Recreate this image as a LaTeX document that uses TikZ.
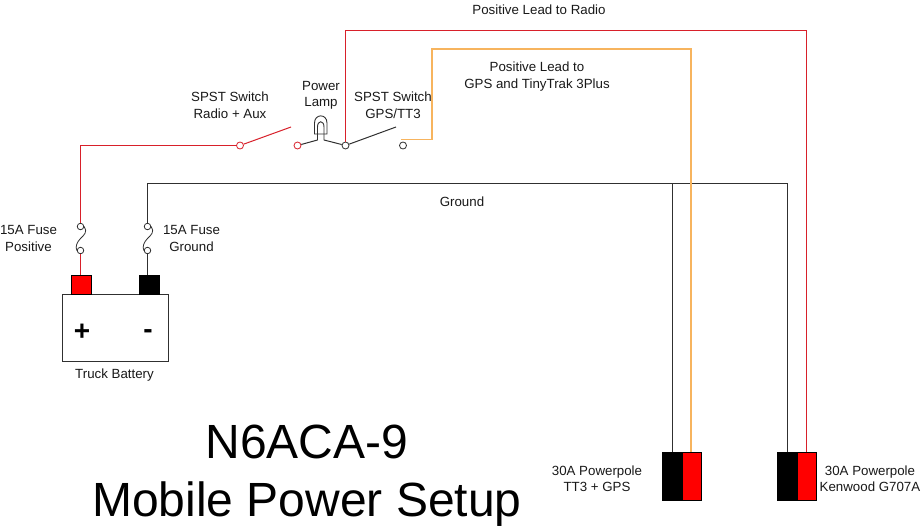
\documentclass[tikz,border=0pt]{standalone}
\usepackage{fontspec}
\setmainfont{Liberation Sans}
\definecolor{wirered}{HTML}{D8202A}
\definecolor{wireorange}{HTML}{F7B45E}
\definecolor{wireblack}{HTML}{303030}
\tikzset{
  lbl/.style={inner sep=0pt,align=center,font=\fontsize{13.3}{16.5}\selectfont,text=black!90},
  title/.style={inner sep=0pt,align=center,font=\fontsize{48}{58}\selectfont,text=black},
  term/.style={circle,draw,inner sep=0pt,minimum size=7pt,line width=.8pt},
  fuseend/.style={circle,draw=wireblack,inner sep=0pt,minimum size=6.5pt,line width=.8pt},
  terminal/.style={rectangle,draw=black,inner sep=0pt,line width=.6pt},
  wr/.style={draw=wirered,line width=1pt},
  wo/.style={draw=wireorange,line width=1.2pt},
  wk/.style={draw=wireblack,line width=1pt}
}
\begin{document}
\begin{tikzpicture}[x=1pt,y=-1pt]
\useasboundingbox (0,0) rectangle (921,530);
\fill[white] (0,0) rectangle (921,530);
% battery
\node[draw=wireblack,line width=1pt,inner sep=0pt,minimum width=105.5pt,minimum height=67pt] (batt) at (115.25,327.5) {};
\node[terminal,fill=red,minimum width=19.5pt,minimum height=19pt] (pos) at (81.5,284.5) {};
\node[terminal,fill=black,minimum width=20pt,minimum height=19pt] (neg) at (149,284.5) {};
\node[inner sep=0pt,font=\fontsize{28}{28}\selectfont\bfseries] (plus) at (82,332) {+};
\node[inner sep=0pt,font=\fontsize{28}{28}\selectfont\bfseries] (minus) at (148,334) {-};
% fuses
\node[fuseend] (fa1) at (80.5,226.5) {};
\node[fuseend] (fa2) at (80.5,250.5) {};
\node[fuseend] (fb1) at (147.5,226.5) {};
\node[fuseend] (fb2) at (147.5,250.5) {};
\draw[wk,line width=.8pt] (fa1.east) .. controls (88,232) and (84,235) .. (80.5,238.5) .. controls (77,242) and (75,247) .. (fa2.west);
\draw[wk,line width=.8pt] (fb1.east) .. controls (155,232) and (151,235) .. (147.5,238.5) .. controls (144,242) and (142,247) .. (fb2.west);
% switch terminals
\node[term,draw=wirered] (s1) at (240,145.5) {};
\node[term,draw=wirered] (s2) at (297.5,145.5) {};
\node[term,draw=wireblack] (s3) at (345.5,145.5) {};
\node[term,draw=wireblack] (s4) at (403,145.5) {};
\coordinate (lev1) at (291,127);
\coordinate (lev2) at (396,127);
% lamp
\coordinate (la) at (317.5,140);
\coordinate (lb) at (324,140);
\draw[wk,line width=.9pt] (314.5,134) -- (314.5,123) .. controls (314.5,113.5) and (327,113.5) .. (327,123) -- (327,134) -- cycle;
\draw[wk,line width=.9pt] (la) -- (317.5,127) .. controls (317.5,120) and (324,120) .. (324,127) -- (lb);
% connectors
\coordinate (rc1) at (80.5,145.5);
\draw[wr] (pos.north -| fa1) -- (fa2);
\draw[wr] (fa1) -- (rc1) -- (s1);
\draw[wr] (s1) -- (lev1);
\draw[wk] (neg.north -| fb1) -- (fb2);
\coordinate (gc1) at (147.5,183);
\coordinate (gc2) at (787,183);
\coordinate (gc3) at (672,183);
\draw[wk] (s2) -- (la);
\draw[wk] (lb) -- (s3);
\draw[wk] (s3) -- (lev2);
% powerpoles
\node[terminal,fill=black,minimum width=20pt,minimum height=48pt] (p1k) at (672,476) {};
\node[terminal,fill=red,minimum width=19pt,minimum height=48pt] (p1r) at (691.5,476) {};
\node[terminal,fill=black,minimum width=20pt,minimum height=48pt] (p2k) at (787,476) {};
\node[terminal,fill=red,minimum width=19pt,minimum height=48pt] (p2r) at (806.5,476) {};
\coordinate (oc0) at (401,139.5);
\coordinate (oc1) at (432,139.5);
\coordinate (oc2) at (432,49);
\coordinate (oc3) at (691,49);
\coordinate (rc2) at (345.5,30);
\coordinate (rc3) at (806,30);
\draw[wk] (fb1) -- (gc1) -- (gc2) -- (p2k.north);
\draw[wk] (gc3) -- (p1k.north);
\draw[wo] (oc0) -- (oc1) -- (oc2) -- (oc3) -- (oc3 |- p1r.north);
\draw[wr] (s3) -- (rc2) -- (rc3) -- (rc3 |- p2r.north);
% labels
\node[lbl] (l1) at (539,10) {Positive Lead to Radio};
\node[lbl] (l2) at (537,76.5) {Positive Lead to\\GPS and TinyTrak 3Plus};
\node[lbl] (l3) at (230,105) {SPST Switch\\Radio + Aux};
\node[lbl] (l4) at (321,95.5) {Power\\Lamp};
\node[lbl] (l5) at (393,105) {SPST Switch\\GPS/TT3};
\node[lbl] (l6) at (462,202) {Ground};
\node[lbl] (l7) at (28.5,238.5) {15A Fuse\\Positive};
\node[lbl] (l8) at (191.5,238.5) {15A Fuse\\Ground};
\node[lbl] (l9) at (114.5,375.5) {Truck Battery};
\node[lbl] (l10) at (597,478.5) {30A Powerpole\\TT3 + GPS};
\node[lbl] (l11) at (870,478.5) {30A Powerpole\\Kenwood G707A};
\node[title] (t) at (307,476) {N6ACA-9\\Mobile Power Setup};
\end{tikzpicture}
\end{document}
